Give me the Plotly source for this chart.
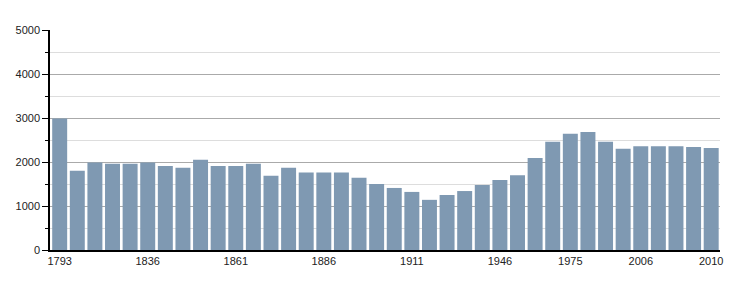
import plotly.graph_objects as go

years = ["1793", "1800", "1806", "1821", "1831", "1836", "1841", "1846", "1851", "1856",
         "1861", "1866", "1872", "1876", "1881", "1886", "1891", "1896", "1901", "1906",
         "1911", "1921", "1926", "1931", "1936", "1946", "1954", "1962", "1968", "1975",
         "1982", "1990", "1999", "2006", "2007", "2008", "2009", "2010"]
population = [2990, 1800, 1990, 1960, 1960, 1990, 1910, 1870, 2050, 1910,
              1910, 1960, 1690, 1870, 1760, 1760, 1760, 1640, 1500, 1410,
              1320, 1140, 1250, 1340, 1480, 1590, 1700, 2090, 2460, 2640,
              2680, 2460, 2300, 2360, 2360, 2360, 2340, 2320]
shown_labels = ["1793", "1836", "1861", "1886", "1911", "1946", "1975", "2006", "2010"]
y_ticks = [0, 1000, 2000, 3000, 4000, 5000]

fig = go.Figure(go.Bar(x=years, y=population, marker=dict(color="#7f99b2", line=dict(width=0)),
                       hoverinfo="x+y"))

font = dict(family="Liberation Sans, Arial, sans-serif", size=11, color="#222")
fig.update_layout(
    width=750, height=300,
    margin=dict(l=50, r=30, t=30, b=50),
    paper_bgcolor="white", plot_bgcolor="white",
    bargap=0.15, showlegend=False, font=font,
    xaxis=dict(type="category", tickmode="array", tickvals=shown_labels, ticktext=shown_labels,
               showgrid=False, showline=True, linecolor="black", linewidth=1.5,
               ticks="", tickfont=font, range=[-0.55, 37.5], fixedrange=True),
    yaxis=dict(range=[0, 5000], tickmode="array", tickvals=y_ticks,
               showgrid=True, gridcolor="#aaaaaa", gridwidth=1,
               showline=True, linecolor="black", linewidth=1.5,
               ticks="outside", ticklen=6, tickcolor="black", tickwidth=1,
               zeroline=False, tickfont=font,
               minor=dict(dtick=500, ticks="outside", ticklen=3, tickcolor="black",
                          showgrid=True, gridcolor="#dddddd", gridwidth=1),
               fixedrange=True),
)
fig.write_html("out.html")
